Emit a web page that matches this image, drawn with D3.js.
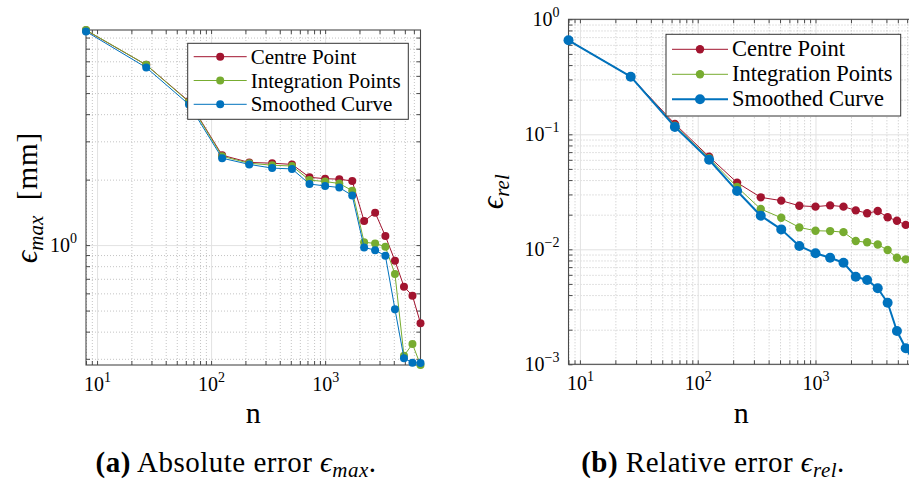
<!DOCTYPE html>
<html>
<head>
<meta charset="utf-8">
<script src="https://cdn.jsdelivr.net/npm/d3@7"></script>
<style>
  body { margin: 0; background: #fff; }
  svg, svg text { font-family: "Liberation Serif", "DejaVu Serif", "Times New Roman", serif; }
</style>
</head>
<body>
<svg id="fig" width="909" height="484"></svg>
<script>
// Number of nodes n (k^3, k = 2..19)
const nodes = [8, 27, 64, 125, 216, 343, 512, 729, 1000, 1331, 1728, 2197, 2744, 3375, 4096, 4913, 5832, 6859];

// Absolute error eps_max [mm]
const absCentre      = [9.72, 6.74, 4.58, 2.59, 2.40, 2.38, 2.35, 2.05, 2.02, 2.01, 1.97, 1.29, 1.41, 1.10, 0.847, 0.644, 0.585, 0.437];
const absIntegration = [9.75, 6.74, 4.55, 2.56, 2.38, 2.33, 2.31, 1.99, 1.96, 1.92, 1.78, 1.03, 1.018, 0.982, 0.736, 0.310, 0.351, 0.281];
const absSmoothed    = [9.60, 6.55, 4.43, 2.51, 2.35, 2.26, 2.24, 1.91, 1.87, 1.84, 1.69, 0.976, 0.948, 0.893, 0.507, 0.302, 0.288, 0.287];

// Relative error eps_rel
const relCentre      = [0.657, 0.317, 0.123, 0.0638, 0.0380, 0.0283, 0.0265, 0.0239, 0.0235, 0.0241, 0.0235, 0.0218, 0.0206, 0.0215, 0.0190, 0.0177, 0.0163, 0.0152];
const relIntegration = [0.657, 0.317, 0.119, 0.0620, 0.0348, 0.0224, 0.0188, 0.0155, 0.0145, 0.0144, 0.0141, 0.0118, 0.0115, 0.0110, 0.00986, 0.00845, 0.00818, 0.00800];
const relSmoothed    = [0.657, 0.317, 0.116, 0.0601, 0.0321, 0.0196, 0.0149, 0.0107, 0.00923, 0.00845, 0.00764, 0.00578, 0.00540, 0.00458, 0.00343, 0.00195, 0.00138, 0.00105];

const seriesNames = ["Centre Point", "Integration Points", "Smoothed Curve"];

// Tick labels (base 10 with exponent)
const xTickValues = [10, 100, 1000];
const xTickExps   = ["1", "2", "3"];
const absTickValues = [1];
const absTickExps   = ["0"];
const relTickValues = [0.001, 0.01, 0.1, 1];
const relTickExps   = ["\u22123", "\u22122", "\u22121", "0"];

const colors = ["#A2142F", "#77AC30", "#0072BD"];
const axisColor = "#4a4a4a";
const serifFont = "'Liberation Serif', 'DejaVu Serif', 'Times New Roman', serif";

const svg = d3.select("#fig").attr("font-family", serifFont);

function logTicks(domain, wantMajor) {
  const out = [];
  const lo = Math.floor(Math.log10(domain[0])), hi = Math.ceil(Math.log10(domain[1]));
  for (let e = lo; e <= hi; e++) {
    for (let m = 1; m < 10; m++) {
      if ((m === 1) !== wantMajor) continue;
      const v = +(m * Math.pow(10, e)).toPrecision(6);
      if (v >= domain[0] * 0.9999 && v <= domain[1] * 1.0001) out.push(v);
    }
  }
  return out;
}

function powerLabel(sel, exps, vals, base, sup) {
  sel.each(function (d) {
    const t = d3.select(this);
    t.text(null);
    const i = vals.indexOf(d);
    t.append("tspan").text("10").attr("font-size", base);
    t.append("tspan").text(exps[i]).attr("font-size", sup).attr("dy", -9);
  });
}

function drawPanel(p) {
  const g = svg.append("g");
  const x = d3.scaleLog().domain([nodes[0], nodes[nodes.length - 1]]).range([p.left, p.right]);
  const y = d3.scaleLog().domain(p.yDomain).range([p.bottom, p.top]);
  const W = p.right - p.left, H = p.bottom - p.top;

  const xMinor = logTicks(x.domain(), false), xMajor = logTicks(x.domain(), true);
  const yMinor = logTicks(y.domain(), false), yMajor = logTicks(y.domain(), true);

  // Grid: dotted minor lines, solid major lines
  const grid = g.append("g");
  grid.append("g").attr("transform", `translate(0,${p.bottom})`)
    .call(d3.axisBottom(x).tickValues(xMinor).tickSize(-H).tickFormat(""))
    .call(s => s.select(".domain").remove())
    .call(s => s.selectAll("line").attr("stroke", "#c4c4c4").attr("stroke-dasharray", "1,2"));
  grid.append("g").attr("transform", `translate(${p.left},0)`)
    .call(d3.axisLeft(y).tickValues(yMinor).tickSize(-W).tickFormat(""))
    .call(s => s.select(".domain").remove())
    .call(s => s.selectAll("line").attr("stroke", "#c4c4c4").attr("stroke-dasharray", "1,2"));
  grid.append("g").attr("transform", `translate(0,${p.bottom})`)
    .call(d3.axisBottom(x).tickValues(xMajor).tickSize(-H).tickFormat(""))
    .call(s => s.select(".domain").remove())
    .call(s => s.selectAll("line").attr("stroke", "#e2e2e2"));
  grid.append("g").attr("transform", `translate(${p.left},0)`)
    .call(d3.axisLeft(y).tickValues(yMajor).tickSize(-W).tickFormat(""))
    .call(s => s.select(".domain").remove())
    .call(s => s.selectAll("line").attr("stroke", "#e2e2e2"));

  // Inward ticks on all four sides
  const tickGroups = [
    [d3.axisBottom(x), `translate(0,${p.bottom})`, xMajor.concat(xMinor)],
    [d3.axisTop(x), `translate(0,${p.top})`, xMajor.concat(xMinor)],
    [d3.axisLeft(y), `translate(${p.left},0)`, yMajor.concat(yMinor)],
    [d3.axisRight(y), `translate(${p.right},0)`, yMajor.concat(yMinor)]
  ];
  tickGroups.forEach(([ax, tr, vals]) => {
    g.append("g").attr("transform", tr)
      .call(ax.tickValues(vals).tickSize(-4).tickFormat(""))
      .call(s => s.select(".domain").remove())
      .call(s => s.selectAll("line").attr("stroke", axisColor));
  });

  // Box
  g.append("rect").attr("x", p.left).attr("y", p.top).attr("width", W).attr("height", H)
    .attr("fill", "none").attr("stroke", axisColor).attr("stroke-width", 1.1);

  // Tick labels
  g.append("g").attr("transform", `translate(0,${p.bottom})`)
    .call(d3.axisBottom(x).tickValues(xTickValues).tickSize(0).tickPadding(26))
    .attr("font-family", serifFont)
    .call(s => s.select(".domain").remove())
    .call(s => s.selectAll("text").attr("fill", "#000").attr("dy", 0)
      .call(powerLabel, xTickExps, xTickValues, 20, 14));
  g.append("g").attr("transform", `translate(${p.left},0)`)
    .call(d3.axisLeft(y).tickValues(p.yTickValues).tickSize(0).tickPadding(9))
    .attr("font-family", serifFont)
    .call(s => s.select(".domain").remove())
    .call(s => s.selectAll("text").attr("fill", "#000").attr("dy", 6)
      .call(powerLabel, p.yTickExps, p.yTickValues, 20, 14));

  // Series
  const line = d3.line().x(d => x(d[0])).y(d => y(d[1]));
  p.series.forEach((vals, i) => {
    const pts = nodes.map((n, j) => [n, vals[j]]);
    g.append("path").datum(pts).attr("d", line)
      .attr("fill", "none").attr("stroke", colors[i]).attr("stroke-width", p.lineWidths[i])
      .attr("stroke-linejoin", "round");
    g.append("g").selectAll("circle").data(pts).join("circle")
      .attr("cx", d => x(d[0])).attr("cy", d => y(d[1])).attr("r", p.radii[i])
      .attr("fill", colors[i]);
  });

  // Legend
  const L = p.legend;
  const lg = g.append("g");
  lg.append("rect").attr("x", L.x).attr("y", L.y).attr("width", L.w).attr("height", L.h)
    .attr("fill", "#fff").attr("stroke", "#333").attr("stroke-width", 1);
  seriesNames.forEach((name, i) => {
    const cy = L.y + L.first + i * L.step;
    lg.append("line").attr("x1", L.x + 6).attr("x2", L.x + L.sample).attr("y1", cy).attr("y2", cy)
      .attr("stroke", colors[i]).attr("stroke-width", p.lineWidths[i]);
    lg.append("circle").attr("cx", L.x + 6 + (L.sample - 6) / 2).attr("cy", cy).attr("r", p.radii[i])
      .attr("fill", colors[i]);
    lg.append("text").attr("x", L.x + L.sample + 4).attr("y", cy + 7).attr("font-size", L.font)
      .attr("fill", "#000").text(name);
  });

  // Axis titles
  g.append("text").attr("x", (p.left + p.right) / 2).attr("y", 423).attr("text-anchor", "middle")
    .attr("font-size", 30).text("n");
  const yl = g.append("text").attr("text-anchor", "middle")
    .attr("transform", `translate(${p.yLabelX},${(p.top + p.bottom) / 2}) rotate(-90)`)
    .attr("font-size", 31);
  yl.append("tspan").attr("font-style", "italic").text("\u03f5");
  yl.append("tspan").attr("font-style", "italic").attr("font-size", 21).attr("dy", 6).text(p.sub);
  if (p.unit) yl.append("tspan").attr("dy", -6).attr("font-size", 29).attr("letter-spacing", 1)
    .text("\u2002" + p.unit);

  // Caption
  const cap = g.append("text").attr("x", p.captionX).attr("y", 472).attr("text-anchor", "middle")
    .attr("font-size", 29).attr("letter-spacing", 0.5);
  cap.append("tspan").attr("font-weight", "bold").text("(" + p.tag + ")");
  cap.append("tspan").text(" " + p.caption + " ");
  cap.append("tspan").attr("font-style", "italic").text("\u03f5");
  cap.append("tspan").attr("font-style", "italic").attr("font-size", 21).attr("dy", 5).text(p.sub);
  cap.append("tspan").attr("dy", -5).text(".");
}

drawPanel({
  left: 86, right: 420.5, top: 30, bottom: 365,
  yDomain: d3.extent(absCentre.concat(absIntegration, absSmoothed)),
  yTickValues: absTickValues, yTickExps: absTickExps,
  series: [absCentre, absIntegration, absSmoothed],
  lineWidths: [1, 1, 1], radii: [4, 4, 4],
  legend: { x: 187.7, y: 43.3, w: 220.6, h: 76, first: 13.4, step: 23.8, sample: 59, font: 21 },
  yLabelX: 37, sub: "max", unit: "[mm]",
  captionX: 236, tag: "a", caption: "Absolute error"
});

drawPanel({
  left: 568.5, right: 914, top: 19.3, bottom: 364.3,
  yDomain: [0.001, 1],
  yTickValues: relTickValues, yTickExps: relTickExps,
  series: [relCentre, relIntegration, relSmoothed],
  lineWidths: [1, 1, 2], radii: [4.2, 4.2, 5],
  legend: { x: 666, y: 34.3, w: 234.7, h: 81.7, first: 15, step: 25, sample: 62, font: 22.5 },
  yLabelX: 503, sub: "rel", unit: null,
  captionX: 713, tag: "b", caption: "Relative error"
});
</script>
</body>
</html>
